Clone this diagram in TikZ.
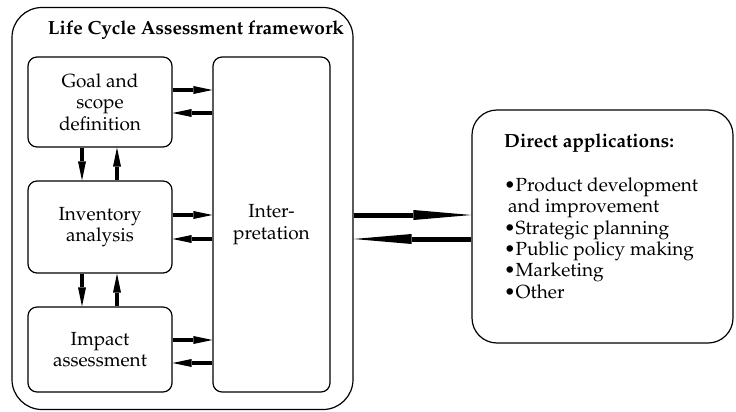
\documentclass[tikz,border=0pt]{standalone}
\usepackage[T1]{fontenc}
\usepackage{mathpazo}
\usetikzlibrary{arrows.meta,positioning}

\tikzset{
  stage/.style={draw,line width=1.2pt,rounded corners=9pt,minimum width=144pt,align=center,
    font=\fontsize{19}{21.5}\selectfont},
  arr/.style={line width=4pt,-{Triangle[length=19pt,width=8pt,line width=0pt]}},
  bigarr/.style={line width=5pt,-{Triangle[length=58pt,width=10pt,line width=0pt]}}
}

\begin{document}
\begin{tikzpicture}[x=1pt,y=-1pt]
\useasboundingbox (0,0) rectangle (736,412);

\node [draw,line width=1.2pt,rounded corners=30pt,minimum width=341pt,minimum height=402pt] (frame) at (182.5,208.5) {};
\node [font=\fontsize{19}{21}\selectfont\bfseries] (title) at (196,30) {Life Cycle Assessment framework};

\node [stage,minimum height=90pt] (goal) at (100,102) {Goal and\\scope\\definition};
\node [stage,minimum height=92pt] (inv) at (100,227) {Inventory\\analysis};
\node [stage,minimum height=85pt] (imp) at (100,349.5) {Impact\\assessment};
\node [stage,minimum width=117pt,minimum height=335pt] (interp) at (271.5,224.5) {Inter-\\pretation};

\draw[arr] (goal.east |- 0,90) -- (interp.west |- 0,90);
\draw[arr] (interp.west |- 0,113) -- (goal.east |- 0,113);
\draw[arr] (inv.east |- 0,215) -- (interp.west |- 0,215);
\draw[arr] (interp.west |- 0,239) -- (inv.east |- 0,239);
\draw[arr] (imp.east |- 0,340) -- (interp.west |- 0,340);
\draw[arr] (interp.west |- 0,363) -- (imp.east |- 0,363);

\draw[arr] (goal.south -| 82,0) -- (inv.north -| 82,0);
\draw[arr] (inv.north -| 117,0) -- (goal.south -| 117,0);
\draw[arr] (inv.south -| 82,0) -- (imp.north -| 82,0);
\draw[arr] (imp.north -| 117,0) -- (inv.south -| 117,0);

\node [draw,line width=1.2pt,rounded corners=25pt,minimum width=261pt,minimum height=233pt] (direct) at (602.5,226.5) {};
\node [anchor=north west,align=left,inner sep=0pt,font=\fontsize{19}{21.4}\selectfont] (applist) at (504,134)
  {\textbf{Direct applications:}\\[22pt]
   \textbullet Product development\\
   \hspace{4pt}and improvement\\
   \textbullet Strategic planning\\
   \textbullet Public policy making\\
   \textbullet Marketing\\
   \textbullet Other};

\draw[bigarr] (frame.east |- 0,215) -- (direct.west |- 0,215);
\draw[bigarr] (direct.west |- 0,239) -- (frame.east |- 0,239);

\end{tikzpicture}
\end{document}
